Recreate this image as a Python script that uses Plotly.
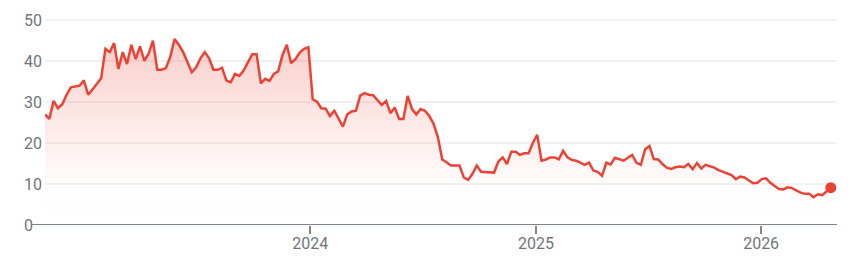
import pandas as pd
import plotly.graph_objects as go

# ---- data (weekly closing values) ----
start_date = "2022-10-28"
values = [
    27.0, 25.9, 30.3, 28.5, 29.5, 31.8, 33.6, 33.8, 34.0, 35.3,
    31.8, 33.1, 34.6, 35.8, 43.0, 42.2, 44.4, 38.1, 42.2, 39.3,
    44.0, 40.5, 43.6, 40.1, 41.8, 45.0, 37.9, 37.9, 38.3, 41.0,
    45.4, 44.0, 42.2, 39.5, 37.3, 38.5, 40.7, 42.2, 40.7, 37.9,
    37.9, 38.4, 35.3, 34.8, 36.9, 36.4, 37.7, 39.7, 41.7, 41.7,
    34.6, 35.7, 35.2, 36.9, 37.5, 41.5, 44.0, 39.5, 40.5, 42.1,
    43.0, 43.4, 30.7, 30.1, 28.5, 28.4, 26.6, 27.9, 25.8, 24.0, 27.0, 27.7, 27.9,
    31.6, 32.2, 31.8, 31.7, 30.4, 29.3, 30.3, 27.3, 28.7, 25.9, 25.9, 31.5, 28.3,
    27.0, 28.3, 27.9, 26.6, 24.7, 21.4, 16.0, 15.3, 14.5, 14.5, 14.5, 11.6, 11.0,
    12.5, 14.5, 13.0, 12.9, 12.9, 12.8, 15.5, 16.5, 14.9, 17.9, 17.9, 17.1, 17.5, 17.5,
    20.1, 22.0, 15.7, 16.0, 16.5, 16.5, 16.0, 18.1, 16.5, 15.9, 15.7, 15.1,
    14.7, 15.2, 13.3, 13.0, 12.0, 15.2, 14.8, 16.4, 16.1, 15.7, 16.4, 17.1, 15.2,
    14.7, 18.5, 19.3, 16.1, 16.0, 14.9, 14.0, 13.7, 14.1, 14.3, 14.1, 14.9, 13.6,
    15.1, 13.8, 14.7, 14.3, 14.0, 13.4, 13.0, 12.6, 12.2, 11.2, 11.8, 11.6, 11.0,
    10.2, 10.3, 11.2, 11.4, 10.3, 9.5, 8.8, 8.7, 9.2, 9.0, 8.4, 7.9, 7.6, 7.6,
    6.8, 7.5, 7.3, 8.1, 9.1,
]
dates = pd.date_range(start=start_date, periods=len(values), freq="7D")

x_tick_vals = ["2024-01-01", "2025-01-01", "2026-01-01"]
x_tick_text = ["2024", "2025", "2026"]
y_ticks = [0, 10, 20, 30, 40, 50]

RED = "#ea4335"
GREY = "#70757a"
FONT = "Roboto"

fig = go.Figure()
fig.add_trace(go.Scatter(
    x=dates, y=values, mode="lines",
    line=dict(color=RED, width=2.5),
    fill="tozeroy",
    fillgradient=dict(
        type="vertical", start=0, stop=46,
        colorscale=[[0, "rgba(234,67,53,0)"], [0.2, "rgba(234,67,53,0.01)"],
                    [1, "rgba(234,67,53,0.26)"]],
    ),
    hoverinfo="skip", showlegend=False,
))
fig.add_trace(go.Scatter(
    x=[dates[-1]], y=[values[-1]], mode="markers",
    marker=dict(color=RED, size=11), showlegend=False, hoverinfo="skip",
))

fig.update_layout(
    width=852, height=261,
    margin=dict(l=45, r=15, t=12, b=36),
    paper_bgcolor="white", plot_bgcolor="white",
    font=dict(family=FONT, size=16, color=GREY),
    xaxis=dict(
        range=["2022-10-28", "2026-05-04"], automargin=False,
        tickvals=x_tick_vals, ticktext=x_tick_text,
        ticks="outside", ticklen=8, tickwidth=1.5, tickcolor="#80868b",
        ticklabelstandoff=-4,
        showgrid=False, zeroline=False, showline=False,
        tickfont=dict(family=FONT, size=16, color=GREY),
    ),
    yaxis=dict(
        range=[0, 52], tickvals=y_ticks, showticklabels=False, automargin=False,
        showgrid=True, gridcolor="#f1f1f1", gridwidth=1.5,
        zeroline=False, showline=False,
    ),
)

# baseline at zero extending slightly left of plot area
fig.add_shape(type="line", xref="paper", yref="y", x0=-0.0165, x1=1, y0=0, y1=0,
              line=dict(color="#80868b", width=2))

# left-aligned y tick labels
for v in y_ticks:
    fig.add_annotation(xref="paper", yref="y", x=-0.029, y=v, text=str(v),
                       showarrow=False, xanchor="left", yanchor="middle",
                       font=dict(family=FONT, size=16, color=GREY))

fig.write_html("out.html")
